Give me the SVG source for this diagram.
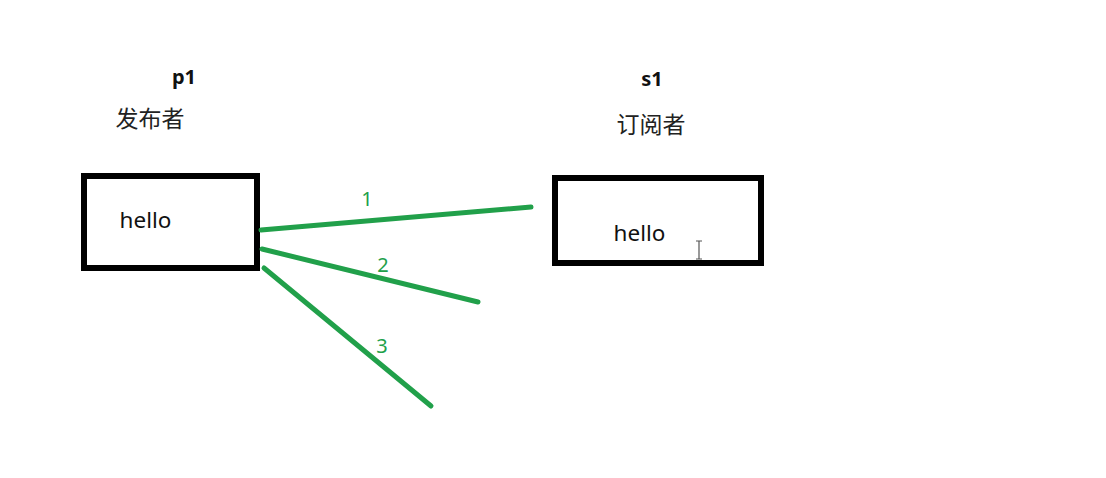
<svg xmlns="http://www.w3.org/2000/svg" width="1106" height="478" viewBox="0 0 1106 478">
<style>
.box{fill:#fff;stroke:#000;stroke-width:6}
.t{font-family:"Noto Sans","Liberation Sans","Noto Sans CJK SC",sans-serif;fill:#111}
.cn{font-family:"Noto Sans CJK SC",sans-serif;font-size:23px;fill:#222}
.conn{stroke:#21a04a;stroke-width:5;stroke-linecap:round;fill:none}
.lbl{font-family:"Noto Sans","Liberation Sans",sans-serif;font-size:20px;fill:#21a04a}
</style>
<rect width="1106" height="478" fill="#fff"/>
<g id="p1">
<text class="t" x="184" y="84" font-size="20" font-weight="bold" text-anchor="middle">p1</text>
<text class="cn" x="150" y="127" text-anchor="middle">发布者</text>
<rect class="box" x="84" y="176" width="173" height="92"/>
<text class="t" x="145.5" y="228" font-size="22.5" text-anchor="middle">hello</text>
</g>
<g id="s1">
<text class="t" x="652" y="86" font-size="20" font-weight="bold" text-anchor="middle">s1</text>
<text class="cn" x="651" y="133" text-anchor="middle">订阅者</text>
<rect class="box" x="555" y="178" width="206" height="85"/>
<text class="t" x="639.5" y="241" font-size="22.5" text-anchor="middle">hello</text>
</g>
<g id="connectors">
<line class="conn" x1="261" y1="230" x2="531" y2="207"/>
<line class="conn" x1="262" y1="249" x2="478" y2="302"/>
<line class="conn" x1="264" y1="268" x2="431" y2="406"/>
<text class="lbl" x="367" y="206" text-anchor="middle">1</text>
<text class="lbl" x="383" y="272" text-anchor="middle">2</text>
<text class="lbl" x="382" y="353" text-anchor="middle">3</text>
</g>
<g id="cursor" stroke="#555" stroke-width="1.2" fill="none">
<path d="M696 241h6M699 241v18M696 259h6"/>
</g>
</svg>
